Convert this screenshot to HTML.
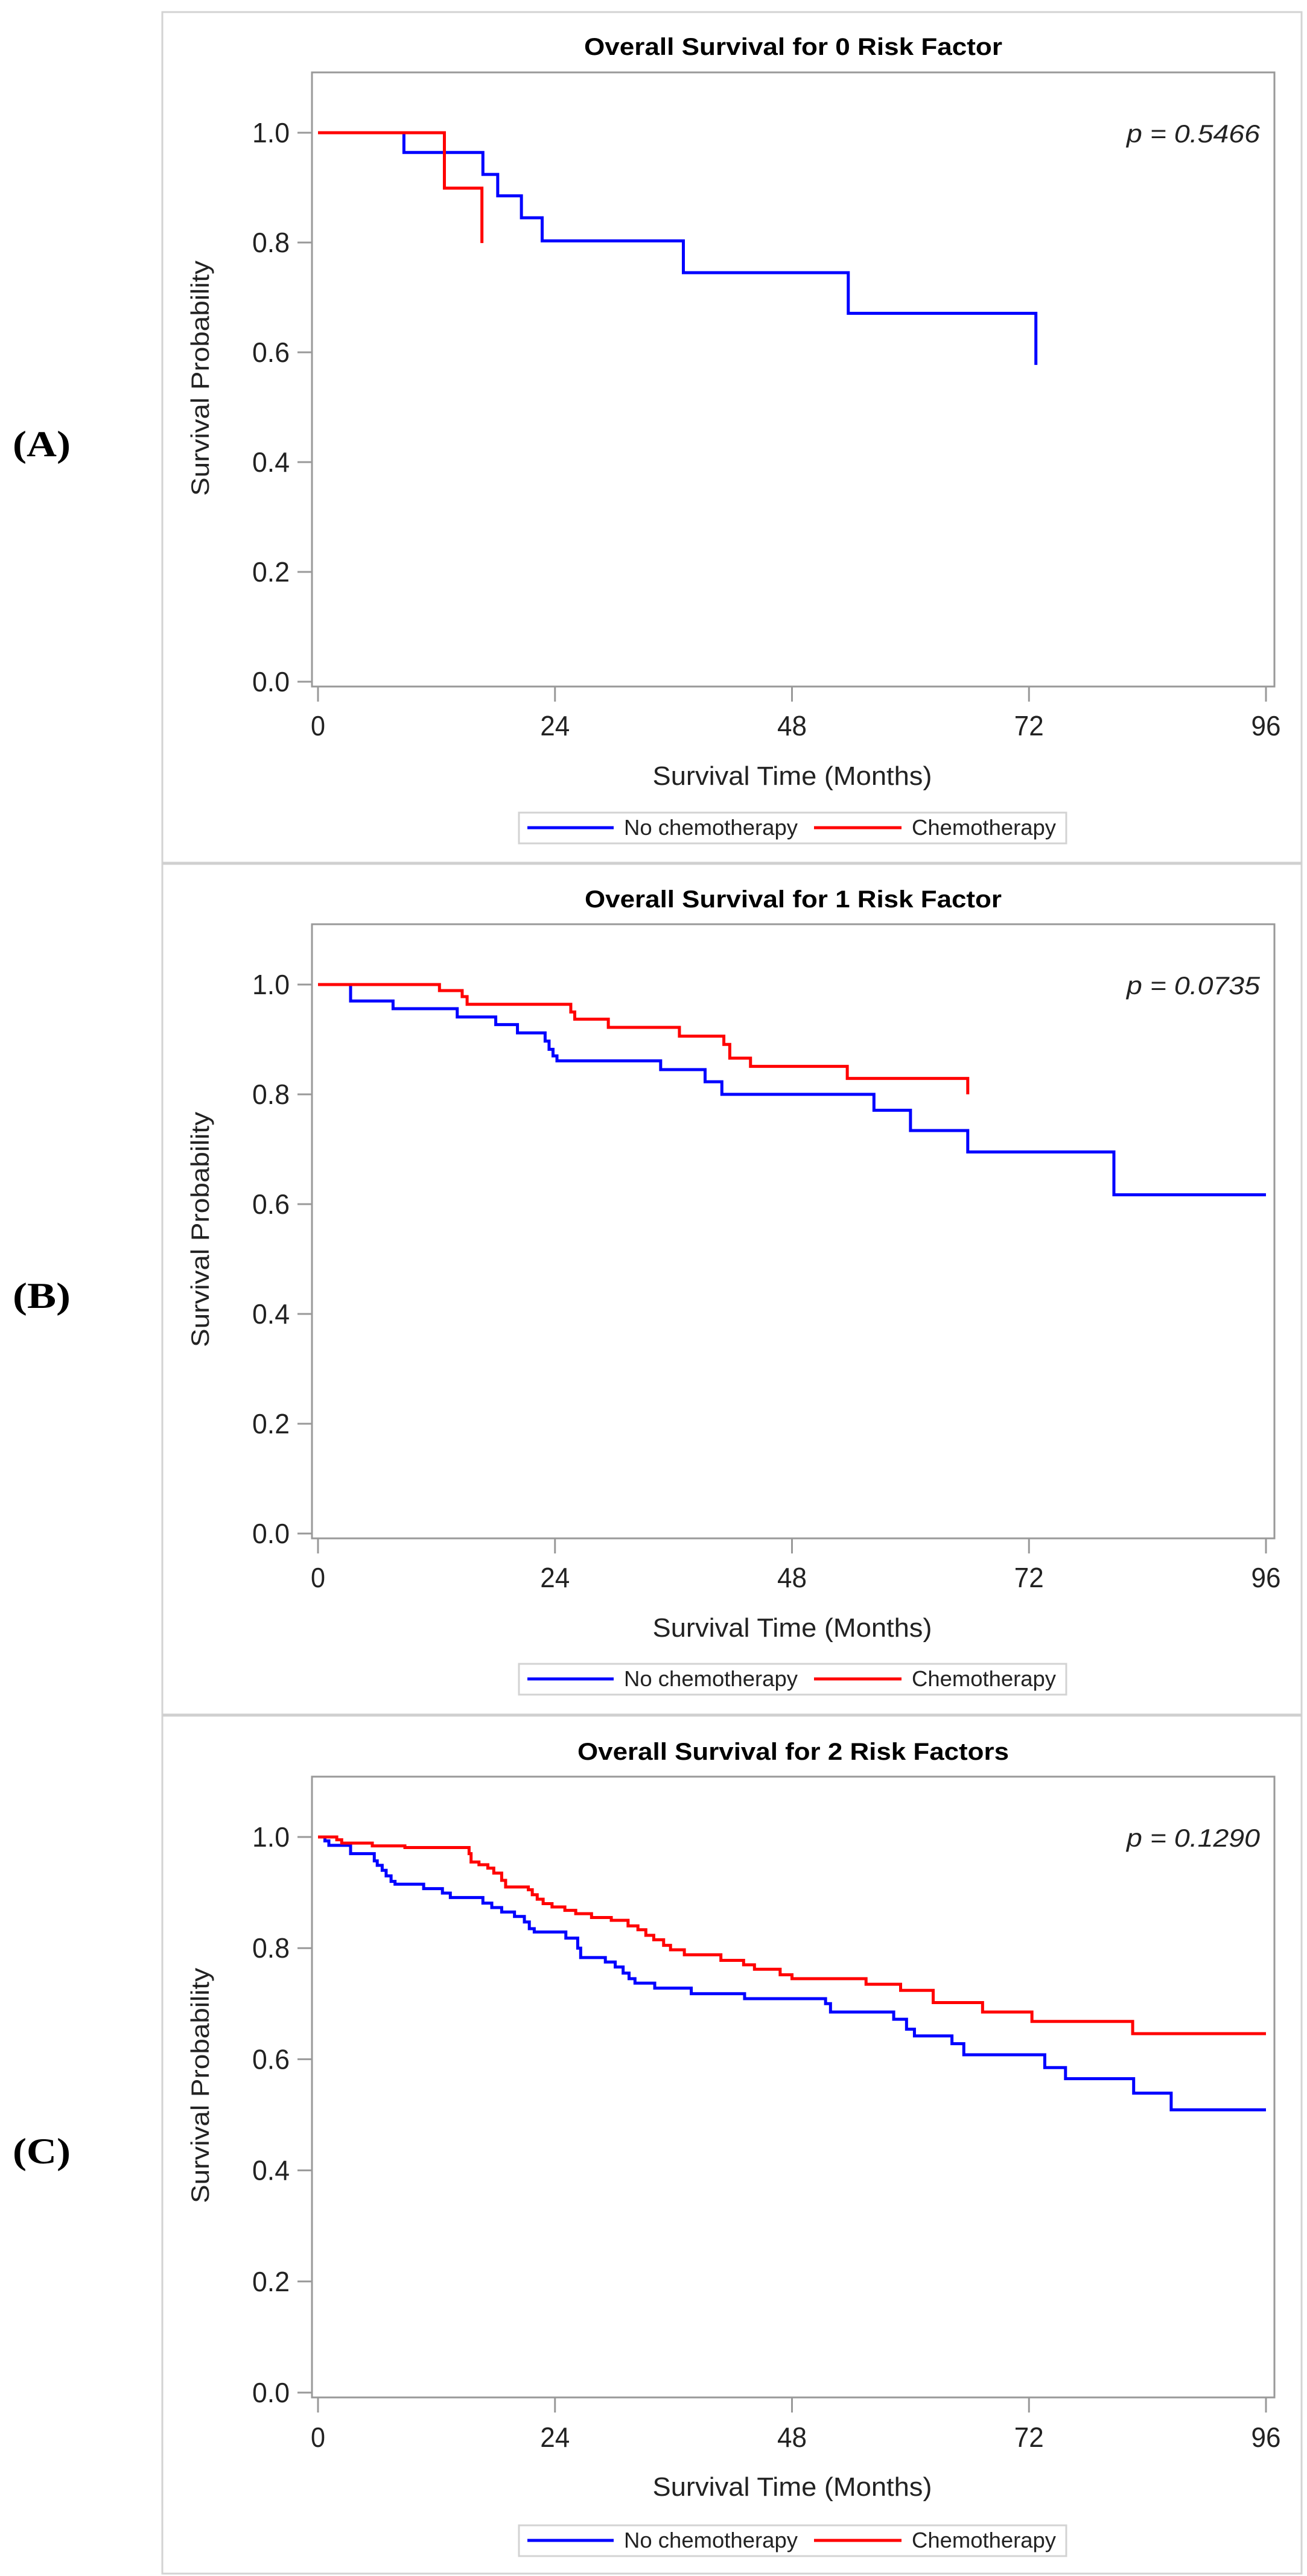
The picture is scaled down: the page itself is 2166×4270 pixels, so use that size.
<!DOCTYPE html>
<html><head><meta charset="utf-8"><style>
html,body{margin:0;padding:0;background:#fff;}
svg{display:block;}
</style></head><body>
<svg id="fig" width="2166" height="4270" viewBox="0 0 2166 4270" xmlns="http://www.w3.org/2000/svg"></svg>
<script>
// ---- data ----
const panelTitles = ["Overall Survival for 0 Risk Factor","Overall Survival for 1 Risk Factor","Overall Survival for 2 Risk Factors"];
const panelLetters = ["(A)","(B)","(C)"];
const pValues = ["p = 0.5466","p = 0.0735","p = 0.1290"];
const xTicks = [0,24,48,72,96];
const yTicks = [0.0,0.2,0.4,0.6,0.8,1.0];
const seriesNames = ["No chemotherapy","Chemotherapy"];

const aNoTimes = [8.7,16.7,18.2,20.6,22.7,37.0,53.7,72.7];
const aNoSurv  = [0.964,0.924,0.885,0.845,0.803,0.745,0.671,0.577];
const aNoEnd = 72.7;
const aChTimes = [12.8,16.6];
const aChSurv  = [0.899,0.799];
const aChEnd = 16.6;

const bNoTimes = [3.3,7.6,14.1,18.0,20.2,23.0,23.4,23.8,24.2,34.7,39.2,40.9,56.3,60.0,65.8,80.6];
const bNoSurv  = [0.970,0.956,0.941,0.927,0.912,0.897,0.882,0.870,0.861,0.845,0.823,0.800,0.771,0.734,0.695,0.617];
const bNoEnd = 96;
const bChTimes = [12.3,14.6,15.1,25.6,26.0,29.4,36.6,41.1,41.7,43.8,53.6,65.8];
const bChSurv  = [0.989,0.978,0.964,0.950,0.937,0.922,0.906,0.891,0.866,0.851,0.829,0.800];
const bChEnd = 65.8;

const cNoTimes = [0.7,1.1,3.3,5.7,6.0,6.5,6.9,7.4,7.8,10.7,12.6,13.4,16.7,17.6,18.6,19.9,20.9,21.4,21.9,25.1,26.3,26.6,29.1,30.1,30.9,31.5,32.1,34.1,37.8,43.2,51.4,51.9,58.3,59.6,60.4,64.2,65.4,73.6,75.7,82.6,86.4];
const cNoSurv  = [0.993,0.985,0.970,0.957,0.949,0.940,0.930,0.920,0.915,0.907,0.899,0.891,0.881,0.873,0.865,0.857,0.847,0.835,0.829,0.818,0.800,0.783,0.775,0.766,0.755,0.745,0.737,0.728,0.718,0.709,0.700,0.685,0.672,0.654,0.642,0.628,0.608,0.585,0.565,0.539,0.509];
const cNoEnd = 96;
const cChTimes = [1.9,2.4,5.5,8.8,15.3,15.5,16.3,17.2,17.8,18.6,19.0,21.3,21.7,22.2,22.8,23.7,25.0,26.1,27.7,29.7,31.4,32.4,33.2,34.0,35.0,35.7,37.1,40.8,43.1,44.2,46.8,48.0,55.5,59.0,62.3,67.3,72.3,82.5];
const cChSurv  = [0.995,0.989,0.984,0.981,0.970,0.955,0.950,0.944,0.935,0.922,0.910,0.905,0.896,0.888,0.880,0.874,0.868,0.862,0.855,0.850,0.840,0.833,0.823,0.815,0.805,0.797,0.788,0.778,0.770,0.762,0.752,0.745,0.735,0.724,0.702,0.685,0.668,0.646];
const cChEnd = 96;

// ---- layout ----
const NS = "http://www.w3.org/2000/svg";
const svg = document.getElementById('fig');
function el(tag, attrs, parent){
  const e = document.createElementNS(NS, tag);
  for (const k in attrs) e.setAttribute(k, attrs[k]);
  (parent||svg).appendChild(e);
  return e;
}
function txt(str, attrs, parent){ const t = el('text', attrs, parent); t.textContent = str; return t; }

// outer frame + separators
const frame = el('rect',{x:269,y:20,width:1888,height:4246,fill:'none',stroke:'#d3d3d3','stroke-width':3});


[1431,2843].forEach((yy,i)=>{
  const s = el('line',{x1:269,x2:2157,y1:yy,y2:yy,stroke:'#d0d0d0','stroke-width':5});
  
  
});

const panels = [
  {title:77, top:120, y1:220, y0:1130, bottom:1138, tick:1202, xt:1286, leg:1372, letterY:735, ytc:627, tw:693,
   series:[[aNoTimes,aNoSurv,aNoEnd],[aChTimes,aChSurv,aChEnd]]},
  {title:1490, top:1532, y1:1632, y0:2542, bottom:2550, tick:2614, xt:2698, leg:2783, letterY:2147, ytc:2038, tw:691,
   series:[[bNoTimes,bNoSurv,bNoEnd],[bChTimes,bChSurv,bChEnd]]},
  {title:2903, top:2945, y1:3045, y0:3966, bottom:3974, tick:4039, xt:4122, leg:4211, letterY:3565, ytc:3457, tw:715,
   series:[[cNoTimes,cNoSurv,cNoEnd],[cChTimes,cChSurv,cChEnd]]}
];
const PL = 517, PR = 2112, X0 = 527, X96 = 2098;
const colors = ['#0000ff','#ff0000'];
const names = ['no-chemo','chemo'];

panels.forEach((p,pi)=>{
  const g = el('g',{});
  
  
  const xs = v => X0 + (X96-X0)*v/96;
  const ys = v => p.y0 - (p.y0-p.y1)*v;

  const L = txt(panelLetters[pi],{x:69,y:p.letterY+21,'text-anchor':'middle','font-family':'Liberation Serif, serif','font-weight':'bold','font-size':60,textLength:96,lengthAdjust:'spacingAndGlyphs',fill:'#000'},g);
  
  

  const T = txt(panelTitles[pi],{x:(PL+PR)/2,y:p.title+14,'text-anchor':'middle','font-family':'Liberation Sans, sans-serif','font-weight':'bold','font-size':40,textLength:p.tw,lengthAdjust:'spacingAndGlyphs',fill:'#000'},g);
  
  

  const box = el('rect',{x:PL,y:p.top,width:PR-PL,height:p.bottom-p.top,fill:'#fff',stroke:'#999','stroke-width':3},g);
  
  

  yTicks.forEach(v=>{
    const yy = ys(v);
    const tk = el('line',{x1:493,x2:PL,y1:yy,y2:yy,stroke:'#999','stroke-width':3},g);
    
    
    const tl = txt(v.toFixed(1),{x:480,y:yy+16,'text-anchor':'end','font-family':'Liberation Sans, sans-serif','font-size':46,textLength:62,lengthAdjust:'spacingAndGlyphs',fill:'#222'},g);
    
    
  });
  xTicks.forEach(v=>{
    const xx = xs(v);
    const tk = el('line',{x1:xx,x2:xx,y1:p.bottom,y2:p.bottom+25,stroke:'#999','stroke-width':3},g);
    
    
    const s = String(v);
    const tl = txt(s,{x:xx,y:p.tick+17,'text-anchor':'middle','font-family':'Liberation Sans, sans-serif','font-size':46,textLength:s.length>1?49:24,lengthAdjust:'spacingAndGlyphs',fill:'#222'},g);
    
    
  });

  const xt = txt('Survival Time (Months)',{x:1313,y:p.xt+15,'text-anchor':'middle','font-family':'Liberation Sans, sans-serif','font-size':44,textLength:463,lengthAdjust:'spacingAndGlyphs',fill:'#222'},g);
  
  
  const yt = txt('Survival Probability',{x:0,y:0,'text-anchor':'middle','font-family':'Liberation Sans, sans-serif','font-size':42,textLength:390,lengthAdjust:'spacingAndGlyphs',fill:'#222',transform:`translate(346,${p.ytc}) rotate(-90)`},g);
  
  

  const pv = txt(pValues[pi],{x:2088,y:p.y1+16,'text-anchor':'end','font-family':'Liberation Sans, sans-serif','font-style':'italic','font-size':42,textLength:221,lengthAdjust:'spacingAndGlyphs',fill:'#222'},g);
  
  

  p.series.forEach((s,si)=>{
    const [times,surv,end] = s;
    let d = `M${xs(0)},${ys(1)}`;
    for (let i=0;i<times.length;i++){
      d += ` H${xs(Math.min(times[i],96))} V${ys(surv[i])}`;
    }
    const last = times[times.length-1];
    if (end > last) d += ` H${Math.min(xs(end),PR)}`;
    const path = el('path',{d:d,fill:'none',stroke:colors[si],'stroke-width':5,'stroke-linejoin':'miter'},g);
    
    
  });

  const lg = el('g',{},g);
  
  
  el('rect',{x:860,y:p.leg-25,width:907,height:51,fill:'#fff',stroke:'#d3d3d3','stroke-width':3},lg);
  const l1 = el('line',{x1:874,x2:1017,y1:p.leg,y2:p.leg,stroke:colors[0],'stroke-width':5},lg);
  
  
  const t1 = txt(seriesNames[0],{x:1034,y:p.leg+12,'font-family':'Liberation Sans, sans-serif','font-size':36,textLength:288,lengthAdjust:'spacingAndGlyphs',fill:'#222'},lg);
  
  
  const l2 = el('line',{x1:1349,x2:1494,y1:p.leg,y2:p.leg,stroke:colors[1],'stroke-width':5},lg);
  
  
  const t2 = txt(seriesNames[1],{x:1511,y:p.leg+12,'font-family':'Liberation Sans, sans-serif','font-size':36,textLength:239,lengthAdjust:'spacingAndGlyphs',fill:'#222'},lg);
  
  
});
</script>
</body></html>
